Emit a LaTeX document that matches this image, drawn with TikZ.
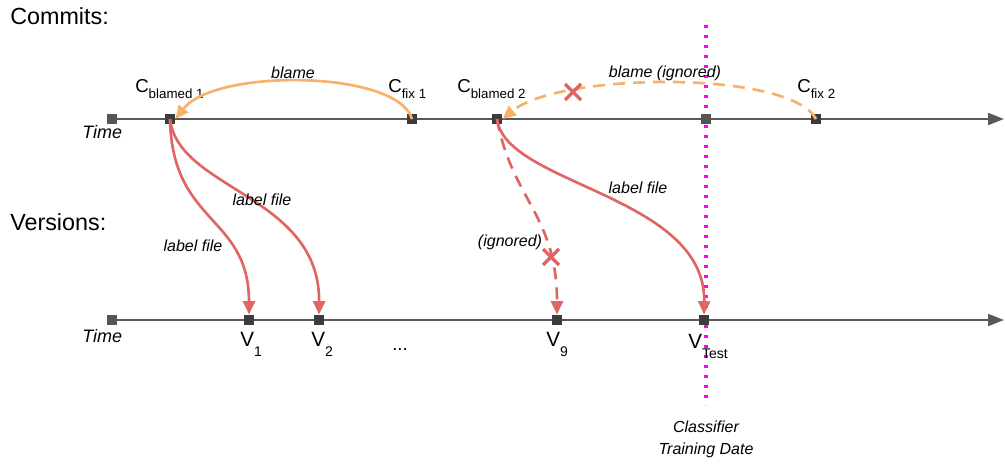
\documentclass[tikz,border=0pt]{standalone}
\usepackage{fontspec}
\setmainfont{Liberation Sans}
\usetikzlibrary{arrows.meta}
\definecolor{axisgray}{HTML}{595959}
\definecolor{sqdark}{HTML}{3C3C3C}
\definecolor{sqlight}{HTML}{555555}
\definecolor{blameorange}{HTML}{F6B26B}
\definecolor{labelred}{HTML}{E06666}
\definecolor{trainmag}{HTML}{FF00FF}
\tikzset{
  tick/.style={rectangle, fill=sqdark, minimum size=7.8pt, inner sep=0pt},
  tickl/.style={rectangle, fill=sqlight, minimum size=7.8pt, inner sep=0pt},
  axis/.style={draw=axisgray, line width=1.5pt, -{Triangle[length=12pt,width=9pt]}},
  blamearc/.style={draw=blameorange, line width=2pt, -{Triangle[length=10pt,width=9pt]}},
  labelarc/.style={draw=labelred, line width=2pt, -{Triangle[length=10pt,width=9pt]}},
  dashedarc/.style={dash pattern=on 9pt off 6pt},
  heading/.style={anchor=west, font=\fontsize{17.5}{20}\selectfont, inner sep=0pt},
  timetext/.style={anchor=base west, font=\fontsize{13.5}{15}\selectfont\itshape, inner sep=0pt},
  itlabel/.style={font=\fontsize{12}{14}\selectfont\itshape, inner sep=0pt},
  cname/.style={anchor=base west, font=\fontsize{14}{16}\selectfont, inner sep=0pt},
  vname/.style={anchor=base west, font=\fontsize{15.5}{17}\selectfont, inner sep=0pt},
  xmark/.style={draw=labelred, line width=2.6pt},
}
\newcommand{\csub}[1]{\raisebox{-5pt}{\fontsize{10}{12}\selectfont #1}}
\newcommand{\vsub}[1]{\raisebox{-8pt}{\fontsize{10.5}{12}\selectfont #1}}
\begin{document}
\begin{tikzpicture}[x=0.75pt,y=-0.75pt]
\useasboundingbox (0,0) rectangle (1005,464);

% headings
\node[heading] (commits) at (10,16) {Commits:};
\node[heading] (versions) at (10,222) {Versions:};

% training date line (behind the ticks)
\coordinate (mtop) at (706,25);
\coordinate (mbot) at (706,405);
\draw[trainmag, line width=2.5pt, dash pattern=on 2.5pt off 5pt] (mtop) -- (mbot);
\node[itlabel, align=center] (train) at (706,439) {Classifier\\[2.5pt]Training Date};

% commit axis
\coordinate (cstart) at (112,119);
\coordinate (cend) at (1004,119);
\draw[axis] (cstart) -- (cend);
\node[tickl] (c0) at (cstart) {};
\node[tick] (cb1) at (170,119) {};
\node[tick] (cf1) at (412,119) {};
\node[tick] (cb2) at (497,119) {};
\node[tickl] (ct) at (706,119) {};
\node[tick] (cf2) at (816,119) {};
\node[timetext] (time1) at (82,138) {Time};

% version axis
\coordinate (vstart) at (112,320);
\coordinate (vend) at (1004,320);
\draw[axis] (vstart) -- (vend);
\node[tickl] (v0) at (vstart) {};
\node[tick] (v1) at (249,320) {};
\node[tick] (v2) at (319,320) {};
\node[tick] (v9) at (557,320) {};
\node[tick] (vt) at (704,320) {};
\node[timetext] (time2) at (82,342) {Time};

% commit labels
\node[cname] (lcb1) at (135,92) {C\csub{blamed 1}};
\node[cname] (lcf1) at (388,92) {C\csub{fix 1}};
\node[cname] (lcb2) at (457,92) {C\csub{blamed 2}};
\node[cname] (lcf2) at (797,92) {C\csub{fix 2}};

% version labels
\node[vname] (lv1) at (240,346) {V\vsub{1}};
\node[vname] (lv2) at (311,346) {V\vsub{2}};
\node[vname] (lv9) at (546,346) {V\vsub{9}};
\node[vname] (lvt) at (688,348) {V\vsub{Test}};
\node[cname] (dots) at (392,350) {...};

% blame arcs
\draw[blamearc] (cf1.center) .. controls (398,70) and (215,68) .. (cb1.east);
\node[itlabel] (lblame) at (293,73) {blame};
\draw[blamearc, dashedarc] (cf2.center) .. controls (790,70) and (560,72) .. (cb2.east);
\node[itlabel] (lblame2) at (665,73) {blame (ignored)};
\coordinate (x1) at (573,92);
\draw[xmark] ([xshift=-6,yshift=-6]x1) -- ([xshift=6,yshift=6]x1);
\draw[xmark] ([xshift=-6,yshift=6]x1) -- ([xshift=6,yshift=-6]x1);

% label file arcs
\draw[labelarc] (cb1.center) .. controls (172,225) and (249,215) .. (v1.north);
\node[itlabel] (llf1) at (193,246) {label file};
\draw[labelarc] (cb1.center) .. controls (178,190) and (320,195) .. (v2.north);
\node[itlabel] (llf2) at (262,200) {label file};
\draw[labelarc] (cb2.center) .. controls (505,185) and (706,195) .. (vt.north);
\node[itlabel] (llf3) at (638,188) {label file};
\draw[labelarc, dashedarc] (cb2.center) .. controls (512,200) and (557,215) .. (v9.north);
\node[itlabel] (lign) at (510,242) {(ignored)};
\coordinate (x2) at (551,257);
\draw[xmark] ([xshift=-6,yshift=-6]x2) -- ([xshift=6,yshift=6]x2);
\draw[xmark] ([xshift=-6,yshift=6]x2) -- ([xshift=6,yshift=-6]x2);
\end{tikzpicture}
\end{document}
